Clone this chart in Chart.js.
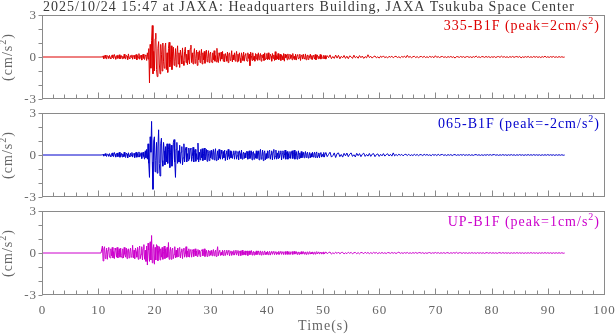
<!DOCTYPE html>
<html><head><meta charset="utf-8">
<script src="https://cdn.jsdelivr.net/npm/chart.js@4"></script>
<style>
html,body{margin:0;padding:0;background:#fff;width:616px;height:334px;overflow:hidden}
canvas{position:absolute;left:0;top:0}
</style></head>
<body>
<canvas id="c0" width="616" height="334"></canvas>
<canvas id="c1" width="616" height="334"></canvas>
<canvas id="c2" width="616" height="334"></canvas>
<script>
// ---- text ----
const titleText = "2025/10/24 15:47 at JAXA: Headquarters Building, JAXA Tsukuba Space Center";
const stationNames = ["335-B1F", "065-B1F", "UP-B1F"];
const peakLabels = ["2", "-2", "1"];
const xAxisTitle = "Time(s)";
const xTickLabels = [0, 10, 20, 30, 40, 50, 60, 70, 80, 90, 100];
const yTickLabels = [-3, 0, 3];
const yTickMarks = [-3, -2, -1, 0, 1, 2, 3];

// ---- sampling: flat pre-event point, dense part (every 0.125 s, 10.5-50.375 s), tail (every 0.25 s, 50.5-93 s) ----
const preEventTimes = [0];
const denseStart = 10.5, denseStep = 0.125;
const tailStart = 50.5, tailStep = 0.25;

const dense335 = [
 0, 0.01, -0.02, 0.08, -0.12, 0.05, 0.14, -0.08, -0.15, 0.1, 0.03, -0.1, 0.12, -0.05, -0.13, 0.09,
 0.15, -0.06, -0.12, 0.18, 0.02, -0.16, 0.08, 0.12, -0.1, -0.04, 0.16, -0.14, 0.06, 0.1, -0.12, 0.05,
 -0.1, 0.2, -0.08, -0.15, 0.12, 0.05, -0.18, 0.22, -0.06, -0.12, 0.1, -0.02, 0.15, -0.16, 0.08, 0.12,
 -0.14, 0.06, 0.18, -0.2, 0.1, -0.08, 0.24, -0.16, -0.05, 0.14, -0.22, 0.12, 0.2, -0.1, -0.18, 0.15,
 0.1, -0.25, 0.3, -0.15, 0.6, -1.85, 0.9, -0.8, 1.2, 2.25, -1.2, 0.4, -1.0, 1.3, 1.7, -0.9,
 -1.4, 0.6, 1.1, -0.5, -1.2, 0.9, 0.2, -1.0, 1.0, -0.3, -0.8, 0.7, 1.0, -0.9, 0.3, -1.1,
 0.6, 1.05, -0.7, -0.2, 0.8, -0.9, 0.4, 0.7, -0.6, -0.3, 0.6, -0.7, 0.2, 0.8, -0.5, 0.3,
 -0.75, 0.5, 0.1, -0.5, 0.65, -0.3, -0.6, 0.4, 0.7, -0.4, 0.2, -0.55, 0.5, -0.2, -0.5, 0.6,
 0.85, -0.4, 0.3, -0.5, 0.2, 0.6, -0.45, -0.1, 0.5, -0.6, 0.35, -0.2, 0.45, -0.4, 0.1, 0.55,
 -0.5, 0.3, -0.2, 0.4, -0.45, 0.15, 0.5, -0.35, -0.1, 0.45, -0.4, 0.2, 0.35, -0.3, -0.4, 0.3,
 -0.2, 0.45, -0.3, 0.1, -0.35, 0.62, -0.2, -0.4, 0.3, 0.1, -0.3, 0.35, -0.15, 0.4, -0.3, 0.2,
 -0.35, 0.25, 0.05, -0.3, 0.35, -0.4, 0.2, 0.3, -0.25, -0.1, 0.45, -0.35, 0.15, -0.2, 0.3, -0.3,
 0.1, 0.4, -0.35, 0.2, -0.3, 0.3, -0.1, -0.4, 0.3, 0.05, -0.25, 0.35, -0.3, 0.15, 0.25, -0.2,
 -0.3, 0.3, -0.1, 0.2, -0.62, 0.35, 0.1, -0.25, 0.3, -0.2, 0.05, -0.3, 0.25, -0.15, 0.2, -0.25,
 0.3, -0.2, 0.1, 0.25, -0.3, 0.15, -0.05, 0.2, -0.25, 0.3, -0.2, -0.1, 0.25, -0.2, 0.3, -0.15,
 -0.2, 0.2, 0.05, -0.3, 0.25, -0.1, 0.15, -0.25, 0.38, -0.2, 0.1, -0.15, 0.25, -0.2, -0.05, 0.2,
 -0.25, 0.15, 0.05, -0.2, 0.25, -0.3, 0.2, -0.05, 0.15, -0.2, 0.22, -0.1, -0.15, 0.2, -0.1, 0.15,
 -0.2, 0.25, -0.1, 0.05, -0.18, 0.2, -0.22, 0.1, 0.18, -0.15, -0.05, 0.2, -0.25, 0.1, 0.15, -0.15,
 0.2, -0.1, -0.15, 0.22, -0.2, 0.05, 0.15, -0.18, 0.1, -0.05, 0.2, -0.15, 0.1, -0.18, 0.12, 0.05,
 -0.15, 0.18, -0.2, 0.1, 0.15, -0.12, 0.05, -0.1, 0.18, -0.15, 0.12, -0.08, -0.1, 0.12, -0.12, 0.1
];
const tail335 = [
 -0.15, 0.1, -0.05, 0.15, -0.12, 0.04, -0.1, 0.14,
 -0.08, 0.12, -0.13, 0.05, -0.06, 0.11, -0.1, 0.06,
 -0.12, 0.08, 0.02, -0.1, 0.13, -0.06, 0.04, -0.09,
 0.1, -0.05, 0.07, -0.1, 0.03, -0.06, 0.16, -0.04,
 0.05, -0.08, 0.03, 0.07, -0.06, 0.02, -0.08, 0.06,
 -0.03, 0.08, -0.05, 0.02, -0.07, 0.05, -0.02, 0.06,
 -0.06, 0.03, 0.05, -0.04, 0.02, -0.06, 0.04, -0.02,
 0.06, -0.05, 0.12, -0.03, 0.04, -0.05, 0.02, 0.05,
 -0.04, 0.03, -0.05, 0.02, 0.04, -0.03, 0.05, -0.04,
 0.02, -0.04, 0.05, -0.02, 0.03, -0.05, 0.09, -0.03,
 0.03, -0.04, 0.02, 0.04, -0.03, 0.02, -0.04, 0.03,
 -0.02, 0.04, -0.03, 0.02, -0.08, 0.03, 0.02, -0.03,
 0.04, -0.02, 0.03, -0.04, 0.02, 0.03, -0.03, 0.02,
 -0.04, 0.03, -0.02, 0.07, -0.03, 0.02, -0.04, 0.03,
 0.02, -0.03, 0.04, -0.02, 0.03, -0.04, 0.02, -0.02,
 0.03, -0.04, 0.02, 0.03, -0.03, 0.06, -0.02, 0.03,
 -0.03, 0.02, -0.04, 0.03, -0.02, 0.04, -0.03, 0.02,
 0.03, -0.02, 0.04, -0.06, 0.02, -0.03, 0.03, -0.02,
 0.04, -0.03, 0.02, -0.03, 0.04, -0.02, 0.03, -0.03,
 0.02, -0.04, 0.03, -0.02, 0.06, -0.03, 0.02, -0.03,
 0.03, -0.02, 0.04, -0.03, 0.02, -0.03, 0.03, -0.02,
 0.02, -0.02, 0
];

const dense065 = [
 0, 0.01, -0.01, 0.06, -0.08, 0.04, 0.1, -0.06, -0.1, 0.08, 0.02, -0.09, 0.1, -0.04, -0.12, 0.08,
 0.15, -0.08, -0.12, 0.18, 0.04, -0.15, 0.1, 0.14, -0.12, -0.06, 0.2, -0.16, 0.05, 0.12, -0.14, 0.08,
 -0.12, 0.2, -0.1, -0.18, 0.14, 0.06, -0.2, 0.16, -0.04, -0.14, 0.12, -0.06, 0.18, -0.15, 0.06, 0.12,
 -0.18, 0.08, 0.2, -0.16, 0.1, -0.12, 0.22, -0.15, -0.06, 0.16, -0.25, 0.12, 0.2, -0.12, -0.3, 0.3,
 -0.2, 0.4, -0.3, 0.8, -0.6, -1.6, 1.3, 0.2, 2.4, -0.5, -2.45, 1.0, 1.3, -1.2, -0.4, 0.9,
 -1.3, 0.5, 1.8, -0.6, -1.5, 0.8, 1.2, -0.4, -0.8, 0.9, 0.3, -0.7, 0.6, -0.5, 0.8, -0.6,
 0.4, 0.8, -0.9, 0.2, 0.7, -0.8, -0.3, 0.9, 1.1, -0.5, -1.6, 0.4, 0.9, -0.6, 0.3, -0.5,
 0.7, -0.6, 0.2, 0.6, -0.7, -0.2, 0.8, -0.5, 0.3, 0.55, -0.5, 0.1, -0.4, 0.5, -0.3, 0.4,
 0.5, -0.45, -0.1, 0.55, -0.5, 0.2, 0.4, -0.45, 0.1, -0.3, 0.85, -0.5, 0.2, -0.35, 0.4, -0.2,
 0.45, -0.4, 0.1, 0.5, -0.35, -0.1, 0.4, -0.45, 0.35, 0.1, -0.4, 0.3, -0.2, 0.35, -0.3, 0.2,
 0.4, -0.35, 0.15, 0.45, -0.4, -0.1, 0.3, -0.35, 0.4, -0.2, -0.3, 0.35, 0.1, -0.3, 0.25, -0.2,
 0.35, -0.4, 0.1, 0.3, -0.35, 0.4, -0.1, -0.3, 0.3, -0.2, 0.25, -0.25, 0.05, 0.3, -0.3, 0.15,
 0.3, -0.3, -0.05, 0.25, -0.35, 0.3, 0.1, -0.25, 0.35, -0.3, 0.05, 0.2, -0.25, 0.15, -0.2, 0.25,
 0.25, -0.3, 0.1, 0.3, -0.25, -0.05, 0.3, -0.35, 0.2, 0.25, -0.3, 0.1, -0.2, 0.3, -0.25, 0.15,
 0.3, -0.35, 0.2, 0.4, -0.3, -0.1, 0.35, -0.4, 0.15, 0.3, -0.35, 0.1, -0.25, 0.3, -0.2, 0.25,
 0.35, -0.3, 0.05, 0.3, -0.35, 0.2, 0.4, -0.3, -0.1, 0.35, -0.3, 0.15, -0.25, 0.3, -0.2, 0.1,
 0.3, -0.35, 0.1, 0.3, -0.25, -0.05, 0.35, -0.3, 0.15, 0.25, -0.3, 0.1, -0.2, 0.25, -0.25, 0.15,
 0.3, -0.25, 0.05, 0.35, -0.3, 0.1, 0.25, -0.3, -0.05, 0.3, -0.25, 0.15, -0.2, 0.25, -0.2, 0.1,
 0.2, -0.2, 0.05, 0.25, -0.18, 0.1, 0.2, -0.22, -0.05, 0.18, -0.2, 0.1, -0.15, 0.2, -0.15, 0.05,
 0.2, -0.18, 0.1, 0.22, -0.2, -0.05, 0.15, -0.2, 0.1, 0.18, -0.15, 0.05, -0.12, 0.18, -0.15, 0.1
];
const tail065 = [
 0.18, -0.12, 0.05, 0.2, -0.15, -0.05, 0.15, -0.18,
 0.1, 0.15, -0.12, 0.04, -0.15, 0.12, -0.06, 0.14,
 -0.12, 0.06, 0.15, -0.1, 0.02, -0.14, 0.12, -0.05,
 0.1, -0.12, 0.05, 0.13, -0.1, 0.04, -0.08, 0.11,
 -0.1, 0.06, 0.1, -0.12, 0.03, 0.08, -0.1, 0.05,
 -0.06, 0.1, -0.08, 0.03, 0.09, -0.07, 0.05, -0.08,
 0.15, -0.06, 0.04, -0.05, 0.06, -0.03, 0.05, -0.06,
 0.03, 0.05, -0.04, 0.06, -0.05, 0.02, -0.04, 0.05,
 -0.03, 0.04, -0.05, 0.03, 0.02, -0.04, 0.05, -0.02,
 0.04, -0.03, 0.02, -0.05, 0.04, -0.02, 0.03, -0.04,
 0.05, -0.03, 0.02, 0.04, -0.03, 0.02, -0.04, 0.03,
 -0.02, 0.03, -0.04, 0.02, 0.03, -0.03, 0.02, -0.02,
 0.03, -0.02, 0.04, -0.03, 0.02, -0.02, 0.03, -0.03,
 0.02, -0.03, 0.02, 0.03, -0.02, 0.02, -0.03, 0.02,
 -0.03, 0.02, -0.02, 0.03, -0.02, 0.03, -0.02, 0.02,
 0.03, -0.02, 0.02, -0.03, 0.02, -0.02, 0.03, -0.02,
 0.02, -0.03, 0.02, -0.02, 0.03, -0.02, 0.02, -0.03,
 0.02, -0.02, 0.03, -0.02, 0.02, -0.03, 0.02, -0.02,
 0.03, -0.02, 0.02, -0.02, 0.03, -0.02, 0.02, -0.02,
 0.02, -0.03, 0.02, -0.02, 0.02, -0.02, 0.03, -0.02,
 0.02, -0.02, 0.02, -0.03, 0.02, -0.02, 0.02, -0.02,
 0.02, -0.02, 0
];

const denseUP = [
 0, 0, 0.5, -0.57, 0.3, 0.45, -0.4, -0.1, 0.35, -0.45, 0.2, 0.4, -0.3, -0.35, 0.3, -0.2,
 0.4, -0.35, 0.1, -0.4, 0.35, 0.2, -0.3, 0.4, -0.35, 0.05, 0.3, -0.3, 0.35, -0.2, -0.35, 0.3,
 -0.35, 0.4, -0.1, -0.3, 0.35, -0.4, 0.2, 0.3, -0.35, 0.1, 0.35, -0.3, -0.2, 0.55, -0.35, 0.2,
 -0.4, 0.35, 0.1, -0.3, 0.4, -0.45, 0.2, 0.5, -0.4, -0.1, 0.45, -0.5, 0.3, 0.6, -0.45, 0.2,
 -0.6, 0.5, -0.86, 0.7, 0.2, -0.6, 0.8, -0.5, 1.25, -0.7, 0.3, 0.6, -0.8, 0.4, -0.5, 0.6,
 0.5, -0.55, 0.2, 0.45, -0.5, 0.3, -0.3, 0.4, -0.45, 0.1, 0.5, -0.4, 0.3, -0.35, 0.4, -0.3,
 0.75, -0.45, 0.1, 0.4, -0.45, 0.2, 0.35, -0.4, -0.1, 0.45, -0.35, 0.2, -0.3, 0.35, -0.25, 0.3,
 0.4, -0.35, 0.1, 0.3, -0.4, 0.2, 0.35, -0.3, -0.1, 0.45, -0.3, 0.15, -0.25, 0.3, -0.3, 0.2,
 0.25, -0.3, 0.1, 0.25, -0.25, 0.05, 0.3, -0.2, 0.15, -0.25, 0.25, -0.1, 0.2, -0.25, 0.1, 0.2,
 0.25, -0.2, 0.05, 0.3, -0.25, 0.1, 0.2, -0.25, -0.05, 0.2, -0.2, 0.15, -0.15, 0.2, -0.2, 0.1,
 0.25, -0.2, 0.05, 0.2, -0.25, 0.1, 0.45, -0.2, 0.1, 0.2, -0.18, 0.05, -0.15, 0.2, -0.18, 0.1,
 0.2, -0.18, 0.05, 0.2, -0.15, 0.1, 0.2, -0.2, 0.05, 0.15, -0.18, 0.1, -0.12, 0.18, -0.15, 0.05,
 0.2, -0.15, 0.05, 0.18, -0.2, 0.1, 0.15, -0.18, 0.05, 0.2, -0.15, 0.08, -0.12, 0.15, -0.15, 0.1,
 0.15, -0.18, 0.05, 0.15, -0.12, 0.1, 0.18, -0.15, 0.05, 0.12, -0.15, 0.08, -0.1, 0.15, -0.12, 0.05,
 0.15, -0.12, 0.05, 0.15, -0.15, 0.08, 0.12, -0.12, 0.04, 0.15, -0.12, 0.06, -0.1, 0.12, -0.12, 0.05,
 0.12, -0.15, 0.05, 0.12, -0.1, 0.06, 0.12, -0.12, 0.04, 0.1, -0.12, 0.05, -0.08, 0.12, -0.1, 0.05,
 0.12, -0.1, 0.04, 0.1, -0.12, 0.05, 0.1, -0.1, 0.03, 0.12, -0.1, 0.05, -0.08, 0.1, -0.1, 0.04,
 0.1, -0.1, 0.04, 0.12, -0.08, 0.05, 0.1, -0.1, 0.03, 0.08, -0.1, 0.05, -0.07, 0.1, -0.08, 0.04,
 0.1, -0.08, 0.03, 0.08, -0.1, 0.04, 0.08, -0.08, 0.03, 0.1, -0.08, 0.04, -0.06, 0.08, -0.08, 0.03,
 0.08, -0.08, 0.03, 0.1, -0.07, 0.04, 0.08, -0.08, 0.03, 0.07, -0.08, 0.04, -0.06, 0.08, -0.07, 0.03
];
const tailUP = [
 0.08, -0.05, 0.03, 0.07, -0.08, 0.02, -0.05, 0.06,
 -0.04, 0.07, -0.06, 0.03, 0.05, -0.07, 0.02, -0.05,
 0.06, -0.03, 0.05, -0.06, 0.02, 0.04, -0.05, 0.03,
 -0.06, 0.04, 0.02, -0.05, 0.06, -0.03, 0.04, -0.05,
 0.03, -0.04, 0.05, -0.02, 0.04, -0.05, 0.03, -0.03,
 0.04, -0.03, 0.02, -0.04, 0.03, 0.02, -0.03, 0.04,
 -0.02, 0.03, -0.04, 0.02, 0.06, -0.03, 0.02, -0.03,
 0.03, -0.02, 0.04, -0.03, 0.02, -0.03, 0.03, -0.02,
 0.04, -0.03, 0.02, 0.03, -0.02, 0.03, -0.04, 0.02,
 -0.03, 0.02, 0.03, -0.03, 0.02, -0.02, 0.04, -0.02,
 0.03, -0.03, 0.02, -0.02, 0.03, -0.03, 0.02, 0.02,
 -0.03, 0.02, -0.02, 0.03, -0.02, 0.05, -0.03, 0.02,
 0.02, -0.03, 0.03, -0.02, 0.02, -0.03, 0.02, -0.02,
 0.03, -0.02, 0.02, -0.03, 0.03, -0.02, 0.02, -0.02,
 0.02, -0.03, 0.02, 0.02, -0.02, 0.03, -0.02, 0.02,
 -0.02, 0.02, -0.03, 0.02, 0.02, -0.02, 0.03, -0.02,
 0.02, -0.02, 0.02, -0.03, 0.02, -0.02, 0.02, -0.02,
 0.03, -0.02, 0.02, -0.02, 0.02, -0.03, 0.02, -0.02,
 0.02, -0.02, 0.03, -0.02, 0.02, -0.02, 0.02, -0.03,
 0.02, -0.02, 0.02, -0.02, 0.03, -0.02, 0.02, -0.02,
 0.02, -0.03, 0.02, -0.02, 0.02, -0.02, 0.02, -0.02,
 0.02, -0.02, 0
];

const denseTraces = [dense335, dense065, denseUP];
const tailTraces = [tail335, tail065, tailUP];
const traceColors = ["#dd0000", "#0000cc", "#cc00cc"];

// ---- layout ----
const panelTops = [15, 113, 211];
const panelBottoms = [99, 197, 295];
const plotLeft = 42, plotRight = 604;
const axisColor = "#8a8a8a";
const labelColor = "#666666";
const titleColor = "#3a3a3a";
const serif = '"Liberation Serif", "Times New Roman", serif';

function buildPoints(dense, tail) {
  const pts = preEventTimes.map(t => ({x: t, y: 0}));
  dense.forEach((v, i) => pts.push({x: denseStart + i * denseStep, y: v}));
  tail.forEach((v, i) => pts.push({x: tailStart + i * tailStep, y: v}));
  return pts;
}

function drawParts(ctx, parts, x, y, align, size, color) {
  const supSize = Math.round(size * 0.7);
  const widths = parts.map(p => {
    ctx.font = (p.sup ? supSize : size) + 'px ' + serif;
    return ctx.measureText(p.t).width;
  });
  const total = widths.reduce((a, b) => a + b, 0);
  let cx = align === 'right' ? x - total : align === 'center' ? x - total / 2 : x;
  ctx.fillStyle = color;
  ctx.textAlign = 'left';
  ctx.textBaseline = 'alphabetic';
  parts.forEach((p, i) => {
    ctx.font = (p.sup ? supSize : size) + 'px ' + serif;
    ctx.fillText(p.t, cx, p.sup ? y - size * 0.42 : y);
    cx += widths[i];
  });
}

const panelDecor = {
  id: 'panelDecor',
  afterDraw(chart, args, opts) {
    const idx = opts.idx;
    const {ctx, chartArea: a, scales: {x, y}} = chart;
    ctx.save();
    try { ctx.letterSpacing = '1px'; } catch (e) {}
    const L = Math.round(a.left) + 0.5, R = Math.round(a.right) + 0.5;
    const T = Math.round(a.top) + 0.5, B = Math.round(a.bottom) - 0.5;
    ctx.strokeStyle = axisColor;
    ctx.lineWidth = 1;
    ctx.strokeRect(L, T, R - L, B - T);
    ctx.beginPath();
    for (let v = 0; v <= 100; v += 2) {
      const px = Math.round(x.getPixelForValue(v)) + 0.5;
      const len = (v % 10 === 0) ? 6 : 4;
      ctx.moveTo(px, B); ctx.lineTo(px, B - len);
    }
    yTickMarks.forEach(v => {
      const py = Math.round(y.getPixelForValue(v)) + 0.5;
      ctx.moveTo(L, py); ctx.lineTo(L - 4, py);
    });
    ctx.stroke();

    ctx.fillStyle = labelColor;
    ctx.font = '13px ' + serif;
    ctx.textAlign = 'right';
    ctx.textBaseline = 'middle';
    yTickLabels.forEach(v => {
      ctx.fillText(String(v), 37, y.getPixelForValue(v) + 0.5);
    });

    const midY = (a.top + a.bottom) / 2;
    ctx.save();
    ctx.translate(12, midY);
    ctx.rotate(-Math.PI / 2);
    drawParts(ctx, [{t: '(cm/s'}, {t: '2', sup: true}, {t: ')'}], 0, 0, 'center', 14, labelColor);
    ctx.restore();

    drawParts(ctx, [{t: stationNames[idx] + ' (peak=' + peakLabels[idx] + 'cm/s'}, {t: '2', sup: true}, {t: ')'}],
      600, a.top + 15, 'right', 14, traceColors[idx]);

    if (idx === 0) {
      ctx.fillStyle = titleColor;
      ctx.font = '14px ' + serif;
      ctx.textAlign = 'left';
      ctx.textBaseline = 'alphabetic';
      ctx.fillText(titleText, 43, 10.5);
    }
    if (idx === 2) {
      ctx.fillStyle = labelColor;
      ctx.font = '13px ' + serif;
      ctx.textAlign = 'center';
      ctx.textBaseline = 'middle';
      xTickLabels.forEach(v => {
        ctx.fillText(String(v), x.getPixelForValue(v) + 0.5, 311);
      });
      ctx.font = '14px ' + serif;
      ctx.fillText(xAxisTitle, (a.left + a.right) / 2 + 0.5, 326);
    }
    ctx.restore();
  }
};

denseTraces.forEach((vals, idx) => {
  new Chart(document.getElementById('c' + idx), {
    type: 'line',
    data: {
      datasets: [{
        data: buildPoints(vals, tailTraces[idx]),
        borderColor: traceColors[idx],
        borderWidth: 1,
        borderJoinStyle: 'bevel',
        pointRadius: 0,
        tension: 0,
        fill: false
      }]
    },
    options: {
      responsive: false,
      animation: false,
      events: [],
      layout: {padding: {left: plotLeft, right: 616 - plotRight, top: panelTops[idx], bottom: 334 - panelBottoms[idx]}},
      plugins: {legend: {display: false}, tooltip: {enabled: false}, panelDecor: {idx: idx}},
      scales: {
        x: {type: 'linear', min: 0, max: 100, display: false},
        y: {type: 'linear', min: -3, max: 3, display: false}
      }
    },
    plugins: [panelDecor]
  });
});
</script>
</body></html>
